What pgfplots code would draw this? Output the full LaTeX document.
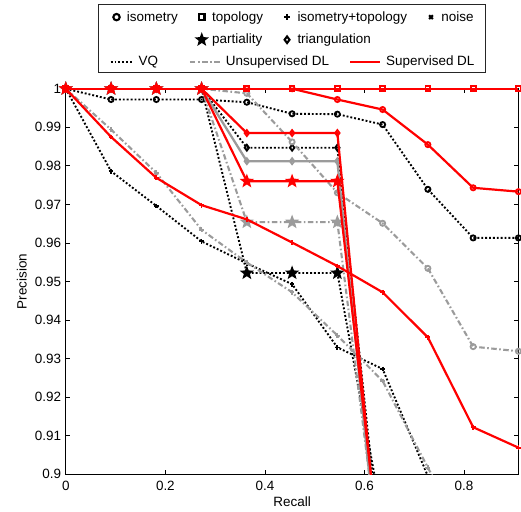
\documentclass[border=0pt]{standalone}
\usepackage{fontspec}
\setmainfont{Liberation Sans}
\usepackage{calc}
\usepackage{pgfplots}
\pgfplotsset{compat=1.18}
\definecolor{ugray}{RGB}{155,155,155}

\pgfdeclareplotmark{pentagram}{%
  \pgfpathmoveto{\pgfpointpolar{90}{\pgfplotmarksize}}%
  \pgfpathlineto{\pgfpointpolar{126}{0.42\pgfplotmarksize}}%
  \pgfpathlineto{\pgfpointpolar{162}{\pgfplotmarksize}}%
  \pgfpathlineto{\pgfpointpolar{198}{0.42\pgfplotmarksize}}%
  \pgfpathlineto{\pgfpointpolar{234}{\pgfplotmarksize}}%
  \pgfpathlineto{\pgfpointpolar{270}{0.42\pgfplotmarksize}}%
  \pgfpathlineto{\pgfpointpolar{306}{\pgfplotmarksize}}%
  \pgfpathlineto{\pgfpointpolar{342}{0.42\pgfplotmarksize}}%
  \pgfpathlineto{\pgfpointpolar{18}{\pgfplotmarksize}}%
  \pgfpathlineto{\pgfpointpolar{54}{0.42\pgfplotmarksize}}%
  \pgfpathclose
  \pgfusepathqfillstroke
}

\pgfplotsset{
  vq/.style={black, line width=1.9pt, dash pattern=on 1.9pt off 2.0pt,
    mark options={solid, black, fill=black, line width=1.8pt}},
  ud/.style={ugray, line width=2.1pt, dash pattern=on 5.5pt off 2.5pt on 1.6pt off 2.5pt,
    mark options={solid, ugray, fill=ugray, line width=1.8pt}},
  udsolid/.style={ugray, line width=2.3pt, solid,
    mark options={solid, ugray, fill=ugray, line width=1.8pt}},
  sd/.style={red, line width=2.2pt, solid,
    mark options={solid, red, fill=red, line width=1.8pt}},
  miso/.style={mark=o, mark size=2.6pt},
  mtop/.style={mark=square, mark size=2.5pt},
  mit/.style={mark=+, mark size=2.4pt},
  mpart/.style={mark=pentagram, mark size=5pt},
  mtri/.style={mark=diamond, mark size=3pt},
}

\newcommand{\mk}[2]{\tikz[baseline=-0.55ex]{\path (-6pt,0) (6pt,0);\pgfsetlinewidth{2.1pt}\pgfsetstrokecolor{black}\pgfsetfillcolor{black}\pgfsetplotmarksize{#1}\pgfuseplotmark{#2}}}
\newcommand{\lsample}[2]{\tikz[baseline=-0.55ex]{\draw[#1] (0,0) -- (#2,0);}}

\begin{document}%
\fontsize{13.5}{16}\selectfont%
\begin{tikzpicture}[x=1pt,y=1pt]
\path (0,0) rectangle (521,511);
\begin{axis}[
  at={(66pt,35.3pt)}, anchor=south west, scale only axis,
  width=454pt, height=386.7pt,
  xmin=0, xmax=0.909091, ymin=0.9, ymax=1,
  xtick={0,0.2,0.4,0.6,0.8}, xticklabels={0,0.2,0.4,0.6,0.8},
  ytick={0.9,0.91,0.92,0.93,0.94,0.95,0.96,0.97,0.98,0.99,1},
  yticklabels={0.9,0.91,0.92,0.93,0.94,0.95,0.96,0.97,0.98,0.99,1},
  tick align=inside, major tick length=4pt,
  every tick/.style={black, line width=0.8pt},
  axis line style={black, line width=1.1pt},
  xlabel={Recall}, ylabel={Precision},
  xlabel style={at={(axis description cs:0.5,-0.0714)}, anchor=center},
  ylabel style={at={(axis description cs:-0.097,0.5)}, anchor=center},
  xticklabel style={yshift=-2pt},
  clip mode=individual, clip marker paths=false,
]
% ---------------- VQ (black dotted)
\addplot[vq, miso] coordinates {(0,1)(0.090909,0.9972)(0.181818,0.9972)(0.272727,0.9972)(0.363636,0.9965)(0.454545,0.9935)(0.545455,0.9934)(0.636364,0.9907)(0.727273,0.9739)(0.818182,0.9613)(0.909091,0.9613)};
\addplot[vq, mtop] coordinates {(0,1)(0.090909,1)(0.181818,1)(0.272727,1)(0.363636,1)(0.454545,1)(0.545455,1)(0.636364,1)(0.727273,1)(0.818182,1)(0.909091,1)};
\addplot[vq, mit, mark indices={1,2,3,4,5,6,7,8}] coordinates {(0,1)(0.090909,0.9786)(0.181818,0.9696)(0.272727,0.9604)(0.363636,0.9547)(0.454545,0.9493)(0.545455,0.9329)(0.636364,0.9273)(0.727273,0.8995)(0.818182,0.88)(0.909091,0.87)};
\addplot[vq, mtri, mark indices={1,2,3,4,5,6,7}] coordinates {(0,1)(0.090909,1)(0.181818,1)(0.272727,1)(0.363636,0.9847)(0.454545,0.9847)(0.545455,0.9847)(0.636364,0.8753)};
\addplot[vq, mpart, mark indices={1,2,3,4,5,6,7}] coordinates {(0,1)(0.090909,1)(0.181818,1)(0.272727,1)(0.363636,0.9522)(0.454545,0.9522)(0.545455,0.9522)(0.636364,0.8883)};
% ---------------- Unsupervised DL (gray dash-dot)
\addplot[ud, miso] coordinates {(0,1)(0.090909,1)(0.181818,1)(0.272727,1)(0.363636,0.9988)(0.454545,0.9862)(0.545455,0.9730)(0.636364,0.9651)(0.727273,0.9534)(0.818182,0.9331)(0.909091,0.9319)};
\addplot[ud, mtop] coordinates {(0,1)(0.090909,1)(0.181818,1)(0.272727,1)(0.363636,1)(0.454545,1)(0.545455,1)(0.636364,1)(0.727273,1)(0.818182,1)(0.909091,1)};
\addplot[ud, mit, mark indices={1,2,3,4,5,6,7,8,9}] coordinates {(0,1)(0.090909,0.9894)(0.181818,0.9782)(0.272727,0.9634)(0.363636,0.9549)(0.454545,0.9472)(0.545455,0.9360)(0.636364,0.9242)(0.727273,0.9017)(0.818182,0.88)(0.909091,0.87)};
\addplot[ud, mpart, mark indices={1,2,3,4,5,6,7}] coordinates {(0,1)(0.090909,1)(0.181818,1)(0.272727,1)(0.363636,0.9654)(0.454545,0.9654)(0.545455,0.9654)(0.636364,0.8725)};
\addplot[udsolid, mtri, mark indices={1,2,3,4,5,6,7}] coordinates {(0,1)(0.090909,1)(0.181818,1)(0.272727,1)(0.363636,0.9812)(0.454545,0.9812)(0.545455,0.9812)(0.636364,0.8658)};
% ---------------- Supervised DL (red solid)
\addplot[sd, miso] coordinates {(0,1)(0.090909,1)(0.181818,1)(0.272727,1)(0.363636,1)(0.454545,1)(0.545455,0.9972)(0.636364,0.9946)(0.727273,0.9855)(0.818182,0.9743)(0.909091,0.9733)};
\addplot[sd, mit] coordinates {(0,1)(0.090909,0.9875)(0.181818,0.9769)(0.272727,0.9698)(0.363636,0.9661)(0.454545,0.9601)(0.545455,0.9540)(0.636364,0.9472)(0.727273,0.9355)(0.818182,0.9122)(0.909091,0.9069)};
\addplot[sd, mtri, mark indices={1,2,3,4,5,6,7}] coordinates {(0,1)(0.090909,1)(0.181818,1)(0.272727,1)(0.363636,0.9885)(0.454545,0.9885)(0.545455,0.9885)(0.636364,0.8690)};
\addplot[sd, mtop] coordinates {(0,1)(0.090909,1)(0.181818,1)(0.272727,1)(0.363636,1)(0.454545,1)(0.545455,1)(0.636364,1)(0.727273,1)(0.818182,1)(0.909091,1)};
\addplot[sd, mpart, mark indices={1,2,3,4,5,6,7}] coordinates {(0,1)(0.090909,1)(0.181818,1)(0.272727,1)(0.363636,0.9760)(0.454545,0.9760)(0.545455,0.9760)(0.636364,0.8735)};
\end{axis}
% ---------------- legend
\draw[line width=0.8pt, black!85] (99,438.3) rectangle (487,507);
\node[anchor=base, inner sep=0pt] at (293,489.9) {\mk{3.2pt}{o}\hspace{4.5pt}isometry\hspace{18pt}\mk{2.7pt}{square}\hspace{4.5pt}topology\hspace{18pt}\mk{3.2pt}{+}\hspace{4.5pt}isometry+topology\hspace{18pt}\mk{2.7pt}{x}\hspace{4.5pt}noise};
\node[anchor=base, inner sep=0pt] at (293,467.2) {\phantom{\mk{3.2pt}{o}\hspace{4.5pt}isometry}\hspace{18pt}\mk{4.6pt}{pentagram}\hspace{4.5pt}\makebox[\widthof{topology}][l]{partiality}\hspace{18pt}\mk{3.3pt}{diamond}\hspace{4.5pt}\makebox[\widthof{isometry+topology}][l]{triangulation}\hspace{18pt}\phantom{\mk{2.7pt}{x}\hspace{4.5pt}noise}};
\node[anchor=base, inner sep=0pt] at (293,445.2) {\lsample{black, line width=1.9pt, dash pattern=on 1.9pt off 2.0pt}{22pt}\hspace{5pt}VQ\hspace{31pt}\lsample{ugray, line width=2.1pt, dash pattern=on 5.5pt off 2.5pt on 1.6pt off 2.5pt}{30pt}\hspace{5pt}Unsupervised DL\hspace{20pt}\lsample{red, line width=2.2pt}{30pt}\hspace{5pt}Supervised DL};
\end{tikzpicture}%
\end{document}
